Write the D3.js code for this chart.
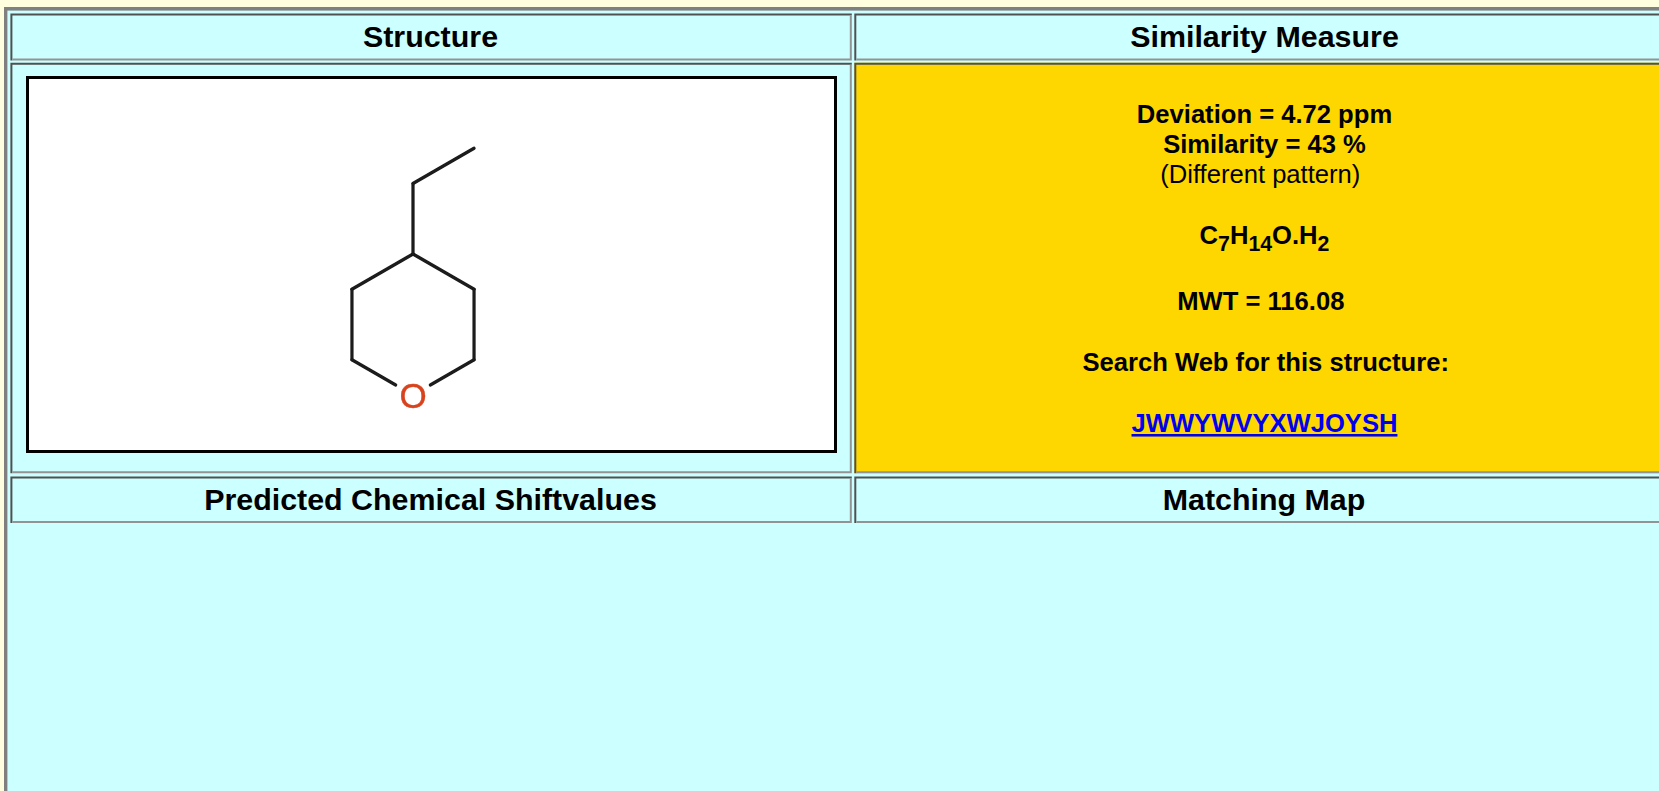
<!DOCTYPE html>
<html>
  <head>
    <meta charset="utf-8">
    <script src="https://d3js.org/d3.v7.min.js"></script>
    <style>
      html, body { margin: 0; padding: 0; overflow: hidden; background: #ffffe0; }
      svg { display: block; font-family: "Liberation Sans", Arial, sans-serif; }
    </style>
  </head>
  <body>
    <div id="page"></div>
    <script>
// header cells
var headers = ["Structure", "Similarity Measure", "Predicted Chemical Shiftvalues", "Matching Map"];

// info panel, one entry per line
var infoLines = ["Deviation = 4.72 ppm", "Similarity = 43 %", "(Different pattern)"];
var formulaParts = [["C", 0], ["7", 1], ["H", 0], ["14", 1], ["O.H", 0], ["2", 1]];
var mwtLabel = "MWT = 116.08";
var searchLabel = "Search Web for this structure:";
var linkLabel = "JWWYWVYXWJOYSH";

// molecule in bond-length units, ring centre at 0,0
var atomNames = ["C1", "C2", "C3", "C4", "C5", "O", "C6", "C7"];
var atomX = [0, 0.866, 0.866, -0.866, -0.866, 0, 0, 0.866];
var atomY = [-1, -0.5, 0.5, -0.5, 0.5, 1, -2, -2.5];
var bonds = [["C1", "C2"], ["C2", "C3"], ["C3", "O"], ["C1", "C4"], ["C4", "C5"], ["C5", "O"], ["C1", "C6"], ["C6", "C7"]];

var width = 1659, height = 791;
var svg = d3.select("#page").append("svg").attr("width", width).attr("height", height);

var cyan = "#ccffff", dark = "#505050", gray = "#939393";

// the structure picture is a slightly soft bitmap in the original
var soft = svg.append("defs").append("filter").attr("id", "soft");
soft.append("feGaussianBlur").attr("stdDeviation", 0.45);

// outer table
svg.append("rect").attr("x", 4).attr("y", 7).attr("width", width + 20).attr("height", height + 20).attr("fill", "#808080");
svg.append("rect").attr("x", 7.4).attr("y", 10.6).attr("width", width + 20).attr("height", height + 20).attr("fill", cyan);

function cell(x, y, w, h, fill) {
  var g = svg.append("g");
  g.append("rect").attr("x", x).attr("y", y).attr("width", w).attr("height", h).attr("fill", fill);
  g.append("path").attr("d", d3.line()([[x + 1, y + h], [x + 1, y + 1], [x + w, y + 1]]))
    .attr("fill", "none").attr("stroke", dark).attr("stroke-width", 2);
  g.append("path").attr("d", d3.line()([[x + w - 1, y + 2], [x + w - 1, y + h - 1], [x + 2, y + h - 1]]))
    .attr("fill", "none").attr("stroke", gray).attr("stroke-width", 2);
  return g;
}

var col1 = 10.4, col2 = 854.3, colW1 = 841.4, colW2 = 841.4;
var rowsY = [13.4, 62.7, 476.5];
var rowsH = [47, 410.6, 46.4];

cell(col1, rowsY[0], colW1, rowsH[0], cyan);
cell(col2, rowsY[0], colW2, rowsH[0], cyan);
cell(col1, rowsY[1], colW1, rowsH[1], cyan);
cell(col2, rowsY[1], colW2, rowsH[1], "#ffd700");
cell(col1, rowsY[2], colW1, rowsH[2], cyan);
cell(col2, rowsY[2], colW2, rowsH[2], cyan);

var headerX = [430.5, 1264.5, 430.5, 1264];
var headerY = [46.5, 46.5, 510, 510];
svg.selectAll(".head").data(headers).enter().append("text")
  .attr("class", "head")
  .attr("x", function(d, i) { return headerX[i]; })
  .attr("y", function(d, i) { return headerY[i]; })
  .attr("text-anchor", "middle")
  .attr("font-size", 30.4).attr("font-weight", "bold")
  .text(function(d) { return d; });

// structure box
svg.append("rect").attr("x", 27.5).attr("y", 77.5).attr("width", 808).attr("height", 374)
  .attr("fill", "#fff").attr("stroke", "#000").attr("stroke-width", 3);

var xMol = d3.scaleLinear().domain([0, 1]).range([413, 483.5]);
var yMol = d3.scaleLinear().domain([0, 1]).range([324.5, 395]);
var atoms = {};
atomNames.forEach(function(n, i) { atoms[n] = { x: xMol(atomX[i]), y: yMol(atomY[i]) }; });

var mol = svg.append("g").attr("filter", "url(#soft)");

// O label leaves a gap in the bonds
var gap = 20;
mol.selectAll(".bond").data(bonds).enter().append("line")
  .attr("class", "bond")
  .attr("x1", function(d) { return atoms[d[0]].x; })
  .attr("y1", function(d) { return atoms[d[0]].y; })
  .attr("x2", function(d) {
    var a = atoms[d[0]], b = atoms[d[1]];
    if (d[1] != "O") return b.x;
    return b.x - (b.x - a.x) / Math.hypot(b.x - a.x, b.y - a.y) * gap;
  })
  .attr("y2", function(d) {
    var a = atoms[d[0]], b = atoms[d[1]];
    if (d[1] != "O") return b.y;
    return b.y - (b.y - a.y) / Math.hypot(b.x - a.x, b.y - a.y) * gap;
  })
  .attr("stroke", "#1a1a1a").attr("stroke-width", 3.2).attr("stroke-linecap", "round");

mol.append("text").attr("x", atoms.O.x).attr("y", atoms.O.y + 12.5)
  .attr("text-anchor", "middle").attr("font-size", 35).attr("fill", "#d8431c")
  .attr("stroke", "#d8431c").attr("stroke-width", 0.4)
  .text("O");

// info panel
var cx = 1264.5;
var lineX = [cx, cx, cx - 4.2];
var lineY = [123, 153, 182.5];
var info = svg.append("g").attr("text-anchor", "middle").attr("font-size", 25.6).attr("fill", "#000");
info.selectAll(".line").data(infoLines).enter().append("text")
  .attr("class", "line")
  .attr("x", function(d, i) { return lineX[i]; })
  .attr("y", function(d, i) { return lineY[i]; })
  .attr("font-weight", function(d, i) { return i < 2 ? "bold" : "normal"; })
  .text(function(d) { return d; });

var formula = info.append("text").attr("x", cx).attr("y", 244).attr("font-weight", "bold");
formula.selectAll("tspan").data(formulaParts).enter().append("tspan")
  .attr("font-size", function(d) { return d[1] ? 21.3 : 25.6; })
  .attr("dy", function(d, i) {
    if (i == 0) return 0;
    return d[1] ? 7 : -7;
  })
  .text(function(d) { return d[0]; });

info.append("text").attr("x", cx - 3.7).attr("y", 310).attr("font-weight", "bold").text(mwtLabel);
info.append("text").attr("x", cx + 1.2).attr("y", 371).attr("font-weight", "bold").text(searchLabel);
info.append("text").attr("x", cx).attr("y", 432).attr("font-weight", "bold")
  .attr("fill", "#0000ee").attr("text-decoration", "underline").text(linkLabel);
    </script>
  </body>
</html>
